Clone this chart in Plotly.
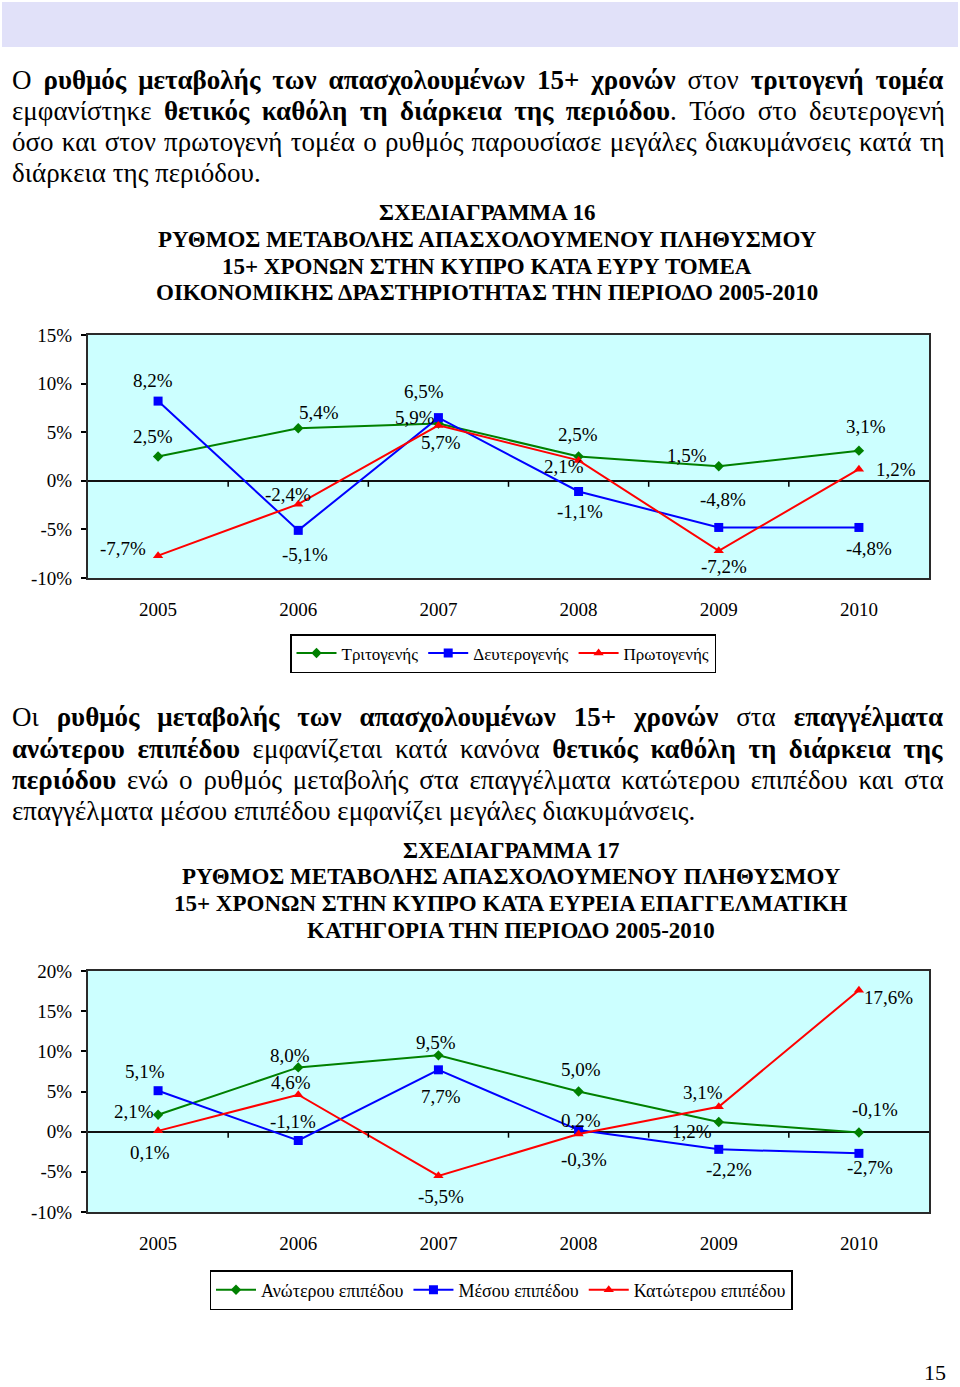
import math
import plotly.graph_objects as go

W, H = 960, 1387

# ---------------- data ----------------
years = ["2005", "2006", "2007", "2008", "2009", "2010"]

# Chart 16 – by sector
sector_names = ["Τριτογενής", "Δευτερογενής", "Πρωτογενής"]
tertiary = [2.5, 5.4, 5.9, 2.5, 1.5, 3.1]
secondary = [8.2, -5.1, 6.5, -1.1, -4.8, -4.8]
primary = [-7.7, -2.4, 5.7, 2.1, -7.2, 1.2]
y1_tickvals = [-10, -5, 0, 5, 10, 15]
y1_ticktext = ["-10%", "-5%", "0%", "5%", "10%", "15%"]

# Chart 17 – by occupation level
occ_names = ["Ανώτερου επιπέδου", "Μέσου επιπέδου", "Κατώτερου επιπέδου"]
upper = [2.1, 8.0, 9.5, 5.0, 1.2, -0.1]
middle = [5.1, -1.1, 7.7, 0.2, -2.2, -2.7]
lower = [0.1, 4.6, -5.5, -0.3, 3.1, 17.6]
y2_tickvals = [-10, -5, 0, 5, 10, 15, 20]
y2_ticktext = ["-10%", "-5%", "0%", "5%", "10%", "15%", "20%"]

# ---------------- text ----------------
para1 = [
    "Ο <b>ρυθμός μεταβολής των απασχολουμένων 15+ χρονών</b> στον <b>τριτογενή τομέα</b>",
    "εμφανίστηκε <b>θετικός καθόλη τη διάρκεια της περιόδου</b>. Τόσο στο δευτερογενή",
    "όσο και στον πρωτογενή τομέα ο ρυθμός παρουσίασε μεγάλες διακυμάνσεις κατά τη",
    "διάρκεια της περιόδου.",
]
para2 = [
    "Οι <b>ρυθμός μεταβολής των απασχολουμένων 15+ χρονών</b> στα <b>επαγγέλματα</b>",
    "<b>ανώτερου επιπέδου</b> εμφανίζεται κατά κανόνα <b>θετικός καθόλη τη διάρκεια της</b>",
    "<b>περιόδου</b> ενώ ο ρυθμός μεταβολής στα επαγγέλματα κατώτερου επιπέδου και στα",
    "επαγγέλματα μέσου επιπέδου εμφανίζει μεγάλες διακυμάνσεις.",
]
title1 = [
    "ΣΧΕΔΙΑΓΡΑΜΜΑ 16",
    "ΡΥΘΜΟΣ ΜΕΤΑΒΟΛΗΣ ΑΠΑΣΧΟΛΟΥΜΕΝΟΥ ΠΛΗΘΥΣΜΟΥ",
    "15+ ΧΡΟΝΩΝ ΣΤΗΝ ΚΥΠΡΟ ΚΑΤΑ ΕΥΡΥ ΤΟΜΕΑ",
    "ΟΙΚΟΝΟΜΙΚΗΣ ΔΡΑΣΤΗΡΙΟΤΗΤΑΣ ΤΗΝ ΠΕΡΙΟΔΟ 2005-2010",
]
title2 = [
    "ΣΧΕΔΙΑΓΡΑΜΜΑ 17",
    "ΡΥΘΜΟΣ ΜΕΤΑΒΟΛΗΣ ΑΠΑΣΧΟΛΟΥΜΕΝΟΥ ΠΛΗΘΥΣΜΟΥ",
    "15+ ΧΡΟΝΩΝ ΣΤΗΝ ΚΥΠΡΟ ΚΑΤΑ ΕΥΡΕΙΑ ΕΠΑΓΓΕΛΜΑΤΙΚΗ",
    "ΚΑΤΗΓΟΡΙΑ ΤΗΝ ΠΕΡΙΟΔΟ 2005-2010",
]
page_number = "15"

# ---------------- style ----------------
FONT = "Liberation Serif"
PARA_SIZE = 27
colors = ["#008000", "#0000FF", "#FF0000"]
symbols = ["diamond", "square", "triangle-up"]
msizes = [8, 9, 9]

# word-gap widths (px) used to justify each paragraph line (None = ragged last line)
gaps1 = [12.0, 12.4, 8.2, None]
gaps2 = [17.9, 12.6, 10.8, None]

# label pixel offsets (xshift, yshift) per series/point
off1 = [
    [(-5, 20), (21, 16), (-23, 6), (-1, 22), (-32, 11), (7, 24)],
    [(-5, 21), (7, -24), (-14, 26), (1, -20), (4, 28), (10, -21)],
    [(-35, 7), (-10, 10), (3, -17), (-15, -6), (5, -16), (37, 0)],
]
off2 = [
    [(-24, 3), (-8, 12), (-2, 13), (2, 22), (-27, -9), (16, 23)],
    [(-13, 19), (-5, 19), (3, -27), (2, 10), (10, -20), (11, -14)],
    [(-8, -22), (-7, 12), (3, -21), (5, -25), (-16, 14), (30, -7)],
]


def py(p):
    return 1 - p / H


def fmt(v):
    return f"{v:.1f}".replace(".", ",") + "%"


def justify(line, gap):
    if gap is None:
        return line
    n = max(1, math.ceil(gap / (0.25 * PARA_SIZE)))
    fs = gap / (0.25 * n)
    sep = f'<span style="font-size:{fs:.2f}px">' + "\u00a0" * n + "</span>"
    return sep.join(line.split(" "))


fig = go.Figure()

xdom = [88 / W, 929 / W]
dom1 = [py(578), py(335)]
dom2 = [py(1212), py(971)]

series1 = [tertiary, secondary, primary]
series2 = [upper, middle, lower]
xidx = list(range(len(years)))

for i, (name, vals) in enumerate(zip(sector_names, series1)):
    fig.add_trace(go.Scatter(
        x=xidx, y=vals, name=name, mode="lines+markers",
        line=dict(color=colors[i], width=2),
        marker=dict(symbol=symbols[i], size=msizes[i], color=colors[i]),
        xaxis="x", yaxis="y", legend="legend", hoverinfo="skip"))

for i, (name, vals) in enumerate(zip(occ_names, series2)):
    fig.add_trace(go.Scatter(
        x=xidx, y=vals, name=name, mode="lines+markers",
        line=dict(color=colors[i], width=2),
        marker=dict(symbol=symbols[i], size=msizes[i], color=colors[i]),
        xaxis="x2", yaxis="y2", legend="legend2", hoverinfo="skip"))

annotations = []
shapes = []

# data labels
for series, offs, xr, yref in [(series1, off1, "x", "y"), (series2, off2, "x2", "y2")]:
    for vals, so in zip(series, offs):
        for xi, v, (dx, dy) in zip(xidx, vals, so):
            annotations.append(dict(
                x=xi, y=v, xref=xr, yref=yref, text=fmt(v), showarrow=False,
                xshift=dx, yshift=dy, font=dict(family=FONT, size=19, color="black")))

# tick marks on the zero line between categories
for xr, yref in [("x", "y"), ("x2", "y2")]:
    for b in range(len(years) - 1):
        shapes.append(dict(type="line", xref=xr, yref=yref, x0=b + 0.5, x1=b + 0.5,
                           ysizemode="pixel", yanchor=0, y0=0, y1=-6,
                           line=dict(color="black", width=1.5)))

# banner
shapes.append(dict(type="rect", xref="paper", yref="paper", x0=2 / W, x1=958 / W,
                   y0=py(47), y1=py(2), fillcolor="#e1e1f9", line=dict(width=0), layer="below"))

# paragraphs
for lines, gaps, ys in [(para1, gaps1, [80, 111, 142, 173]), (para2, gaps2, [717, 749, 780, 811])]:
    for t, g, yy in zip(lines, gaps, ys):
        annotations.append(dict(
            x=10 / W, y=py(yy), xref="paper", yref="paper", xanchor="left", yanchor="middle",
            text=justify(t, g), showarrow=False,
            font=dict(family=FONT, size=PARA_SIZE, color="black")))

# chart titles
for lines, ys, cx in [(title1, [212, 239, 266, 293], 487), (title2, [850, 876, 903, 930], 511)]:
    for t, yy in zip(lines, ys):
        annotations.append(dict(
            x=cx / W, y=py(yy), xref="paper", yref="paper", xanchor="center", yanchor="middle",
            text="<b>" + t + "</b>", showarrow=False, font=dict(family=FONT, size=23, color="black")))

# page number
annotations.append(dict(x=935 / W, y=py(1386), xref="paper", yref="paper", xanchor="center",
                        yanchor="bottom", text=page_number, showarrow=False, borderpad=0,
                        font=dict(family=FONT, size=22, color="black")))


def xax(anchor):
    return dict(domain=xdom, anchor=anchor, range=[-0.5, 5.5],
                tickvals=xidx, ticktext=years,
                showgrid=False, showline=True, mirror=True, linecolor="#2a2a2a", linewidth=2,
                ticks="", tickfont=dict(family=FONT, size=19, color="black"),
                ticklabelstandoff=13, fixedrange=True, zeroline=False)


def yax(anchor, dom, rng, tv, tt):
    return dict(domain=dom, anchor=anchor, range=rng, tickvals=tv, ticktext=tt,
                showgrid=False, showline=True, mirror=True, linecolor="#2a2a2a", linewidth=2,
                ticks="outside", ticklen=5, tickcolor="black", tickwidth=1.5,
                zeroline=True, zerolinecolor="#111111", zerolinewidth=1.5,
                tickfont=dict(family=FONT, size=19, color="black"),
                ticklabelstandoff=5, fixedrange=True)


legend_common = dict(orientation="h", xanchor="center", yanchor="top", bgcolor="white",
                     bordercolor="black", borderwidth=1.5, itemwidth=40)

fig.update_layout(
    width=W, height=H, margin=dict(l=0, r=0, t=0, b=0, autoexpand=False),
    paper_bgcolor="white", plot_bgcolor="#ccffff",
    xaxis=xax("y"), yaxis=yax("x", dom1, [-10, 15], y1_tickvals, y1_ticktext),
    xaxis2=xax("y2"), yaxis2=yax("x2", dom2, [-10, 20], y2_tickvals, y2_ticktext),
    legend=dict(x=503 / W, y=py(634), font=dict(family=FONT, size=17, color="black"),
                **legend_common),
    legend2=dict(x=501 / W, y=py(1270), font=dict(family=FONT, size=18, color="black"),
                 **legend_common),
    annotations=annotations, shapes=shapes, showlegend=True,
)

fig.write_html("out.html")
